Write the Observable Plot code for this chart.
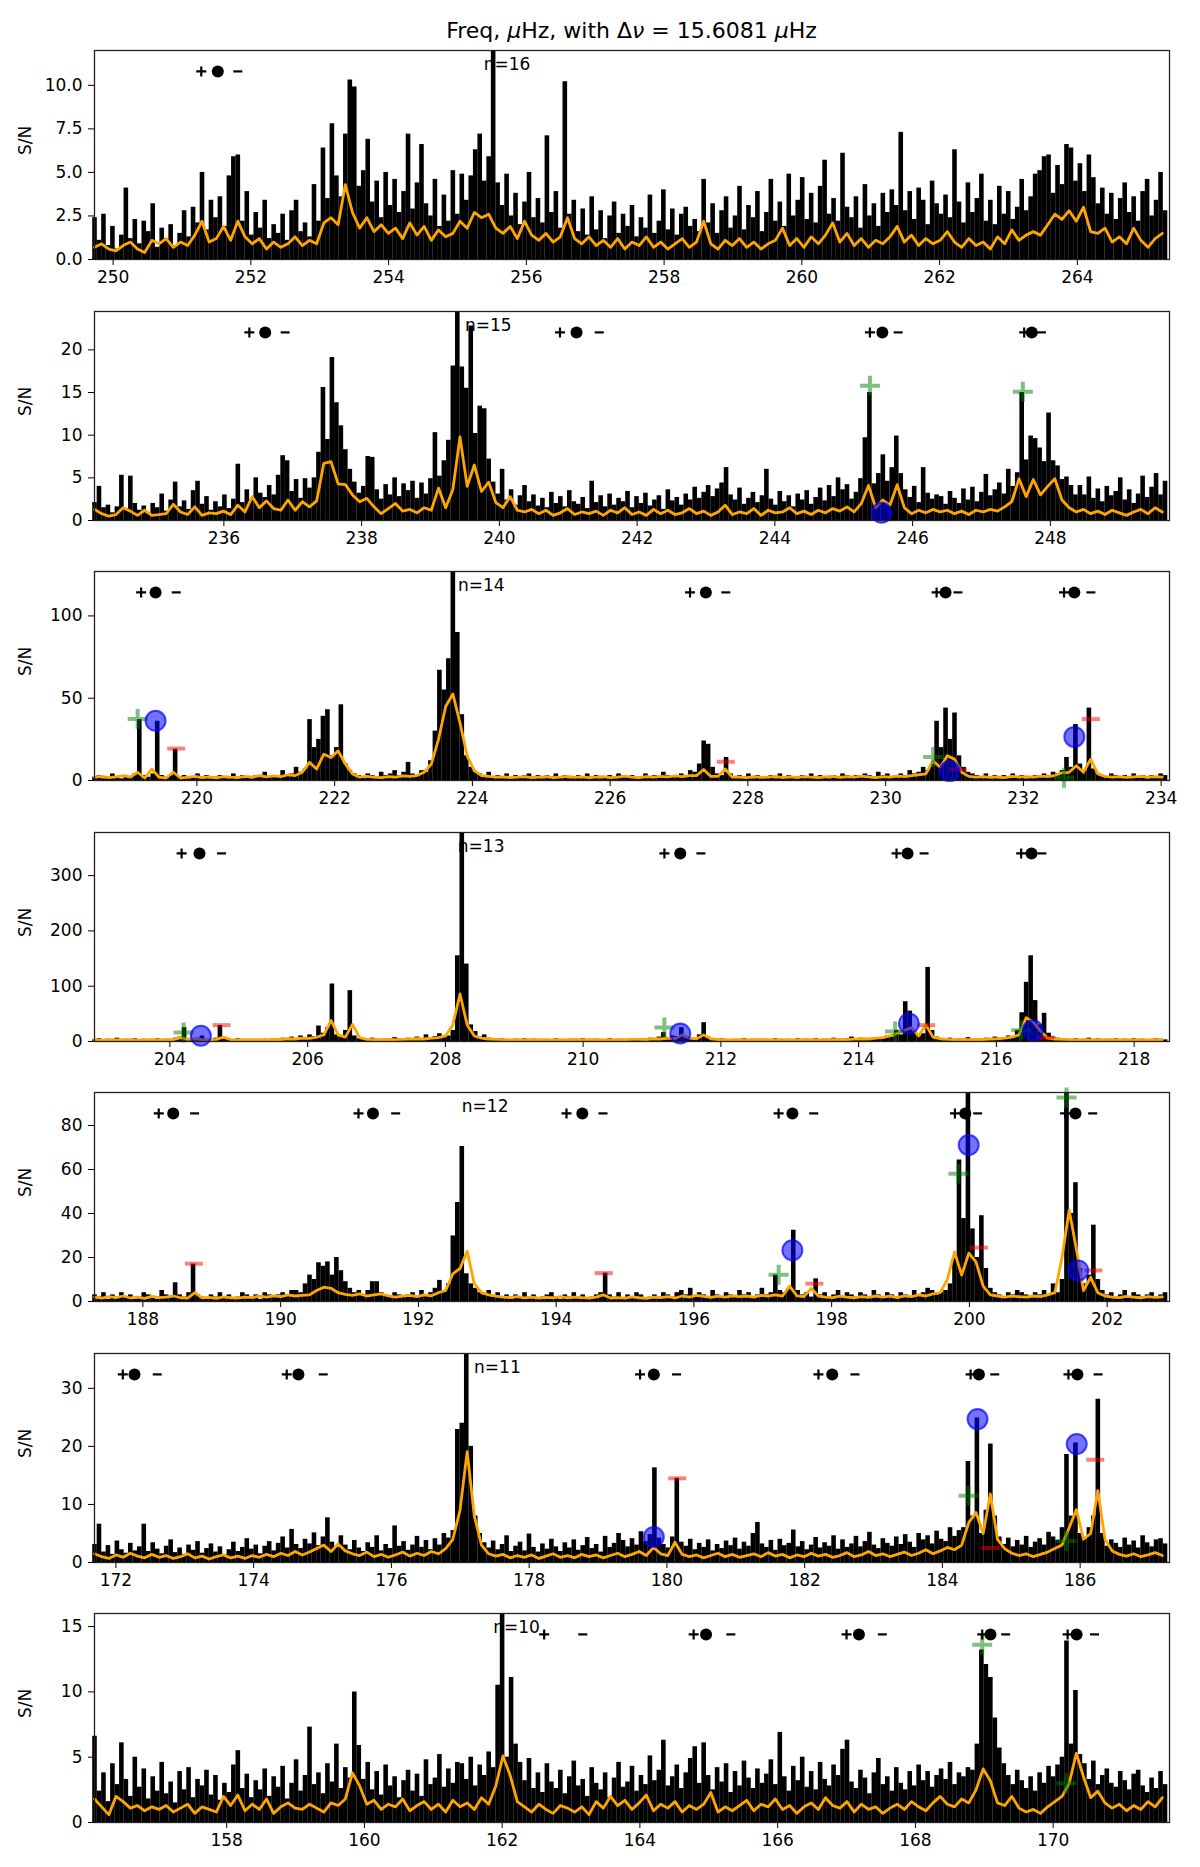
<!DOCTYPE html>
<html>
<head>
<meta charset="utf-8">
<script src="https://cdn.jsdelivr.net/npm/d3@7"></script>
<script src="https://cdn.jsdelivr.net/npm/@observablehq/plot@0.6"></script>
<style>
body { margin: 0; background: #fff; font-family: "DejaVu Sans", sans-serif; }
#title { height: 42px; box-sizing: border-box; padding-top: 20px; padding-left: 94px; width: 1169px;
  text-align: center; font-size: 22px; line-height: 22px; color: #000; }
#chart svg { display: block; }
</style>
</head>
<body>
<div id="title">Freq, <i>μ</i>Hz, with Δ<i>ν</i> = 15.6081 <i>μ</i>Hz</div>
<div id="chart"></div>
<script>
const dnu = 15.6081;

// power spectrum (S/N), 240 bins per order
const black16 = [
  2.4,1.1,2.6,0.8,1.9,0.6,1.4,4.1,1.2,2.3, 0.9,2.2,1.6,3.2,0.7,1.8,1.2,2.0,0.8,1.5,
  2.8,1.3,3.0,2.1,5.0,1.7,3.4,2.4,3.6,1.9, 4.8,5.9,6.0,2.2,3.9,1.4,2.7,1.8,3.4,1.2,
  2.0,1.5,2.6,1.1,2.8,3.4,1.6,2.1,1.3,4.3, 2.2,6.4,3.5,7.8,4.8,3.6,7.2,10.3,9.9,4.2,
  5.1,6.9,3.3,4.5,2.4,5.0,3.1,4.6,2.7,3.9, 7.2,2.9,4.4,6.6,3.2,2.5,4.6,1.9,3.7,2.2,
  5.1,2.6,4.9,3.4,4.8,6.3,7.2,4.5,5.9,13, 4.4,3.1,4.9,2.5,3.8,2.0,3.3,5.0,2.4,3.5,
  2.1,7.1,2.7,3.9,1.8,10.2,2.6,3.4,1.6,2.9, 1.4,3.6,1.7,2.8,1.2,2.5,3.3,1.5,2.6,1.9,
  3.1,1.3,2.4,1.8,3.7,1.5,2.2,4.0,1.7,2.9, 1.4,2.6,3.0,1.9,2.3,1.6,4.6,2.1,3.2,1.5,
  2.8,3.6,1.8,2.5,4.2,1.7,3.1,2.4,3.9,1.6, 2.7,4.6,2.2,3.3,1.9,4.9,2.5,3.4,4.7,2.3,
  3.8,2.1,4.2,5.7,2.6,3.5,2.2,6.1,3.0,2.4, 3.6,1.8,4.3,2.5,3.2,1.9,3.8,2.7,4.0,3.1,
  7.3,2.8,3.9,2.3,4.1,3.4,2.0,4.5,3.2,2.6, 3.7,2.4,6.3,3.3,2.1,4.4,2.7,3.5,4.9,2.2,
  3.4,2.0,4.2,2.6,3.9,2.3,3.0,4.6,2.8,3.6, 4.9,5.1,5.9,6.0,3.8,5.4,4.3,6.6,6.4,4.5,
  5.5,3.9,6.0,4.7,3.2,4.1,2.6,3.8,2.3,3.5, 4.4,2.7,3.6,2.2,3.9,4.6,2.5,3.4,5.0,2.8
];
const black15 = [
  2.1,4.0,1.5,1.8,0.9,1.6,5.3,1.4,5.2,2.0, 1.2,1.7,0.8,2.0,1.5,3.1,1.1,2.4,4.5,1.6,
  2.3,1.3,3.5,4.6,1.9,2.8,1.2,2.2,1.6,3.0, 1.4,2.5,6.6,2.1,3.6,2.4,5.0,3.2,2.7,4.1,
  3.0,5.3,7.6,7.0,3.4,4.8,2.6,4.9,3.8,5.0, 8.0,15.6,9.5,19.1,13.8,11.1,8.3,6.0,4.5,3.2,
  4.0,7.5,7.4,3.6,2.5,4.2,3.0,5.0,2.8,4.3, 3.5,4.6,2.6,4.4,3.1,4.9,10.3,5.2,7.0,9.4,
  18.1,26,18.0,15.5,22.8,10.2,13.4,13.1,7.2,4.5, 3.1,6.0,2.4,3.6,1.8,2.9,4.1,2.2,3.0,1.7,
  2.6,1.5,3.3,2.0,2.8,1.6,3.5,2.2,1.9,2.7, 1.4,4.6,2.1,2.9,1.6,3.1,1.8,2.6,2.2,3.4,
  1.5,2.8,2.0,3.2,1.7,2.4,2.9,1.3,3.6,2.3, 2.7,1.8,3.1,2.4,3.9,2.6,3.3,4.1,2.8,3.7,
  4.4,6.2,3.0,2.4,3.8,1.9,2.6,3.3,2.1,2.9, 6.0,2.5,1.8,3.4,2.2,2.9,1.6,3.1,2.4,3.5,
  1.9,2.7,3.8,2.3,4.1,2.8,5.0,3.6,4.2,2.5, 3.3,4.9,9.7,15.0,4.3,5.5,7.7,4.6,6.2,9.9,
  5.5,3.6,2.7,4.0,2.1,6.2,3.2,2.5,3.0,2.8, 1.9,3.4,2.6,2.0,3.7,2.4,3.9,2.2,3.3,5.4,
  2.9,3.6,4.4,3.1,6.0,4.0,5.6,15.0,7.1,9.9, 9.6,8.5,6.9,12.6,7.0,6.4,4.8,5.1,4.1,3.0,
  4.1,3.0,5.1,2.6,3.7,2.2,4.0,2.9,3.4,5.0, 2.4,3.6,2.0,3.1,5.2,2.7,3.9,5.5,3.0,4.6
];
const black14 = [
  2,3,1,2,4,2,1,3,2,4, 37,3,2,4,36,3,2,3,19,2,
  3,1,2,4,2,3,1,2,3,2, 1,4,2,3,2,1,3,2,5,2,
  3,2,6,3,4,8,5,7,37,20, 25,39,43,15,20,46,10,6,4,3,
  2,4,3,2,5,3,4,6,3,5, 11,4,3,6,5,12,30,67,55,74,
  140,90,40,15,8,5,4,3,5,2, 3,2,4,1,3,2,3,4,2,3,
  1,3,2,4,2,3,1,2,3,2, 4,2,3,1,2,3,2,4,3,2,
  3,1,2,4,2,3,2,5,3,2, 3,4,2,6,5,10,24,22,8,4,
  3,14,4,2,3,2,4,1,3,2, 2,3,1,4,2,3,2,1,3,2,
  4,2,3,2,1,3,2,4,3,2, 3,2,4,3,2,5,3,4,2,3,
  4,3,6,4,5,8,6,10,36,20, 44,25,41,15,8,5,4,3,2,4,
  2,3,1,3,2,4,2,3,1,2, 3,2,4,3,5,4,6,14,8,34,
  10,6,44,7,4,3,2,4,3,2, 3,2,4,2,3,1,3,2,4,3
];
const black13 = [
  3,5,2,4,3,6,2,4,3,5, 2,4,3,2,5,3,4,2,6,8,
  25,5,3,6,10,4,3,6,29,4, 3,2,5,3,2,4,3,2,4,3,
  5,3,6,4,8,5,10,7,12,9, 28,15,25,104,12,8,20,92,10,5,
  4,3,6,4,3,5,4,7,5,4, 6,4,8,5,12,6,9,14,8,10,
  20,155,400,140,30,18,8,12,6,4, 3,5,3,2,4,3,5,2,4,3,
  2,4,3,5,2,3,4,2,3,5, 3,2,4,3,2,5,3,4,2,3,
  4,3,5,4,6,5,8,16,7,10, 9,25,8,6,5,12,34,8,4,3,
  5,3,2,4,3,5,2,4,3,2, 4,3,5,2,3,4,2,5,3,4,
  3,5,2,4,3,6,4,3,5,8, 4,6,3,5,7,4,6,10,8,20,
  12,72,55,18,10,14,134,20,8,5, 4,6,3,5,4,7,3,5,4,6,
  5,8,6,4,10,7,20,52,107,155, 74,30,51,15,8,6,5,4,3,5,
  3,4,6,3,5,2,4,3,5,3, 4,2,5,3,4,2,3,5,4,3
];
const black12 = [
  3,2,4,1,3,2,4,2,3,1, 2,4,3,2,1,5,3,2,8.5,3,
  2,4,17,3,2,1,3,2,4,2, 3,1,2,4,3,2,3,1,4,3,
  2,3,4,3,5,5,4,8,12,10, 17.6,16,18,12,20,14,9,6,4,5,
  3,5,9,9,4,3,2,4,3,2, 3,4,2,5,3,4,6,9.6,5,8,
  29.8,45,70.4,12.6,8,6,4,3,5,2, 4,2,3,1,3,2,4,2,3,1,
  2,3,4,2,1,3,2,4,2,3, 1,2,3,4,12.9,3,2,4,1,3,
  2,4,3,1,2,3,2,4,3,2, 4,5,3,6,2,4,3,2,5,3,
  2,4,3,2,5,3,4,2,3,6, 3,4,12,5,4,6,32.4,5,3,4,
  2,10.3,3,4,2,3,5,2,4,3, 2,4,3,2,5,3,2,4,3,2,
  4,3,2,5,3,4,6,5,3,4, 5,8,20,64.3,37.7,96,33,20,39,15,
  6,4,3,2,4,3,5,4,3,2, 4,3,5,3,8,4,10,96,40,54,
  15,8,12,34.7,10,5,3,4,2,3, 5,2,4,3,2,3,4,2,3,4
];
const black11 = [
  3.1,6.6,1.8,2.9,1.4,3.7,2.2,1.6,3.3,2.0, 2.7,6.6,1.9,3.4,2.3,1.5,2.8,3.9,1.7,2.5,
  1.4,3.0,2.1,3.6,1.6,2.4,3.2,1.8,2.7,1.3, 2.2,3.5,1.9,2.6,4.1,2.3,3.0,1.5,2.8,3.6,
  2.0,3.3,4.4,2.5,5.7,3.1,2.4,4.0,3.2,5.1, 2.9,4.4,7.7,3.5,2.6,4.6,3.0,2.2,3.8,2.5,
  1.9,3.4,2.6,4.6,2.0,3.1,2.4,6.3,2.8,3.6, 2.1,3.0,4.5,2.6,3.8,2.2,4.1,3.0,5.0,4.2,
  5.5,22.9,24,37,20,8,5.0,3.4,2.5,3.7, 2.2,3.1,4.6,1.9,2.8,3.5,2.0,4.9,2.6,1.8,
  3.2,2.3,4.0,2.7,1.9,3.4,2.5,3.9,2.1,2.9, 4.3,2.4,3.1,1.8,4.5,2.6,3.3,5.0,3.8,2.7,
  4.1,3.0,5.3,3.6,4.8,16.3,4.2,3.1,2.5,4.4, 14.5,3.5,2.8,4.0,2.2,3.3,2.6,3.9,2.0,3.1,
  2.4,3.7,2.9,4.2,2.3,3.5,2.8,5.0,6.9,3.2, 2.6,3.8,2.1,4.0,2.9,3.3,5.6,2.7,3.6,2.2,
  3.0,4.3,2.5,3.4,2.8,4.6,2.3,3.9,2.6,3.2, 4.5,2.7,3.6,5.2,3.0,2.4,4.1,3.3,2.8,4.4,
  3.1,4.8,3.5,2.6,5.0,3.9,4.6,3.2,5.4,4.0, 3.6,6.0,4.5,5.5,6,17.4,8,24.9,5,9,
  20.4,8,4.4,3.1,4.2,2.7,3.8,3.0,4.5,2.6, 3.5,4.1,3.0,5.2,4.4,3.8,6,18.6,8,20.6,
  5,4.0,6,8,28.1,5,2.8,3.9,3.3,2.6, 4.2,3.0,3.7,2.5,4.6,3.4,2.7,3.9,4.1,3.2
];
const black10 = [
  6.6,2.4,3.8,1.6,4.5,2.9,6.1,3.3,2.0,5.0, 2.7,4.1,1.8,3.5,2.4,4.6,2.2,3.1,1.5,3.9,
  2.5,4.2,1.9,3.3,2.8,4.0,2.1,3.6,1.7,3.0, 2.3,4.4,5.5,2.6,3.7,1.9,3.2,2.5,4.1,2.0,
  3.5,2.7,4.3,1.8,3.0,4.8,2.4,3.6,7.3,2.9, 3.8,2.2,4.5,3.1,6.0,2.6,4.2,3.4,10.0,5.9,
  3.3,4.6,2.5,3.9,2.1,4.4,2.8,3.5,1.9,3.2, 4.0,2.4,3.7,2.0,4.8,2.9,3.4,5.2,2.7,4.1,
  3.0,4.6,4.5,3.3,5.0,2.8,4.4,3.6,5.4,4.2, 10.5,17,5,11.1,6,4.6,3.2,4.9,2.6,3.8,
  2.3,4.5,3.1,2.6,4.0,2.2,3.5,4.7,2.8,3.3, 2.0,4.2,3.0,2.5,3.8,1.9,3.4,4.6,2.7,3.1,
  4.3,2.4,3.6,2.9,5.1,3.2,4.0,6.3,2.8,3.5, 4.4,2.6,3.8,4.9,5.8,3.0,6.1,3.6,2.5,4.2,
  3.1,4.5,2.3,3.9,2.8,4.7,3.4,2.6,4.1,3.0, 3.7,4.8,2.9,6.9,3.5,2.4,4.3,3.2,5.0,2.7,
  3.9,2.5,4.6,3.3,2.8,4.4,3.6,5.6,6.3,3.1, 2.6,4.0,3.4,2.2,3.8,4.9,2.9,3.5,2.4,4.2,
  3.0,2.5,3.9,2.8,4.4,3.2,3.9,2.7,3.6,4.1, 3.3,4.6,2.9,3.8,3.5,4.2,4,6,13.2,12.1,
  11.1,8,5.7,4.5,3.6,2.9,4.0,3.2,2.6,3.5, 2.4,3.8,3.0,4.3,3.5,4.4,5,13.9,6,10.1,
  5.2,4.5,3.3,4.7,2.9,3.6,4.1,3.0,2.7,3.9, 3.2,2.5,3.7,4.0,2.8,2.3,3.4,2.6,3.9,2.9
];

// smoothed spectrum, 150 points per order
const orange16 = [
  0.7,0.9,0.6,0.5,0.8,1.0,0.6,0.4,1.1,0.9, 1.2,0.7,1.0,0.8,1.4,2.2,1.0,1.2,1.9,1.1,
  2.2,1.3,0.9,1.2,0.6,1.0,0.7,0.9,1.3,0.8, 1.1,0.9,2.1,2.4,2.0,4.3,2.7,1.8,2.4,1.6,
  2.0,1.5,1.8,1.2,2.1,1.4,1.9,1.1,1.7,1.3, 1.5,2.2,1.8,2.7,2.4,2.6,1.8,1.5,1.9,1.2,
  2.2,1.4,1.1,1.5,1.0,1.3,2.4,1.2,0.9,1.3, 0.8,1.1,0.7,1.2,0.6,1.0,0.8,1.3,0.7,1.0,
  0.6,0.9,1.2,0.7,1.0,2.2,0.9,0.6,1.1,0.8, 1.2,0.7,1.0,0.6,0.9,1.1,1.8,0.8,1.2,0.7,
  1.3,0.9,1.4,2.1,1.0,1.5,0.8,1.2,0.7,1.1, 0.9,1.3,1.9,1.0,1.4,0.8,1.2,0.9,1.1,1.6,
  1.0,0.7,1.2,0.8,1.0,0.6,1.3,0.9,1.7,1.1, 1.4,1.6,1.4,2.0,2.6,2.3,2.8,2.2,3.0,1.6,
  1.5,1.8,1.0,1.3,0.9,1.8,1.1,0.7,1.2,1.5
];
const orange15 = [
  1.3,0.8,0.5,0.7,1.5,1.1,0.6,1.2,0.6,0.7, 0.8,1.9,1.0,0.7,1.6,0.6,0.9,0.8,1.1,0.7,
  1.8,1.0,2.8,1.5,2.3,1.4,1.2,2.4,1.2,2.2, 1.6,2.3,6.7,6.9,4.3,4.2,3.0,2.2,2.6,1.6,
  0.8,1.4,2.0,1.1,1.3,0.9,1.5,1.2,3.8,1.5, 3.6,9.8,4.0,6.5,3.4,4.5,2.1,1.5,2.8,1.2,
  1.0,1.3,0.8,1.2,0.6,0.9,1.4,0.7,1.0,0.8, 1.1,0.6,1.2,0.9,1.5,0.7,1.0,0.6,1.3,0.8,
  1.2,0.7,0.9,1.4,0.8,1.1,0.6,1.0,1.8,0.7, 1.0,0.8,1.4,0.6,1.2,0.9,1.0,1.5,0.8,1.1,
  0.7,1.2,0.9,1.4,1.1,1.6,1.0,2.0,4.1,1.5, 2.4,1.8,4.2,1.5,0.8,1.2,0.9,1.3,1.0,1.2,
  0.8,1.1,0.7,1.2,1.0,1.3,1.1,1.6,2.2,4.9, 2.8,4.8,3.0,4.0,4.9,2.4,1.5,1.0,1.3,0.8,
  1.1,0.7,1.2,0.9,0.6,1.0,1.3,0.8,1.5,1.0
];
const orange14 = [
  2,2.5,1.8,2.2,3,2,5,1.5,7,2, 1.5,5,1.5,2,2.5,1.8,2.2,1.6,2.4,2,
  1.7,2.5,2,3,2.2,2.8,2.4,3.5,3,5, 11,7,16,14,18,10,4,2,2.5,2,
  1.8,2.4,2,2.8,2.5,3,5,10,25,45, 52.6,35,15,6,3,2.5,2,2.2,1.8,2,
  2.4,1.7,2,2.3,1.8,2.1,2.5,1.9,2.2,1.7, 2,2.4,1.8,2.1,2.6,2,1.7,2.3,2,2.5,
  2.2,2.8,2.4,3,3,6.7,2.5,2.5,7,2, 2,1.8,2.3,1.9,2.1,2.5,1.8,2.2,1.9,2.4,
  2,1.7,2.2,2.5,1.9,2.3,2,2.6,2.2,1.8, 2.4,2.1,2.7,2.3,3,3.5,4,12,8,15,
  13,5,2.5,2,2.4,1.9,2.2,1.8,2.5,2.1, 2.3,2,2.6,2.4,3,4.7,5,9,5,13,
  4,2.5,2,2.3,1.9,2.2,2.5,2,2.3,2.1
];
const orange13 = [
  3,2.5,3.5,3,2.8,3.2,2.6,3,3.4,2.9, 3.2,3.5,7,4,5,3.5,3,4,8,3.5,
  3,3.3,2.8,3.5,3,4,3.6,5,4.5,6, 5.5,8,12,38,12,8,31,7,4,3.5,
  3.2,3.8,3.5,4,4.2,5,4.5,6,7,10, 30,86,30,10,6,4.5,3.8,3.3,3,3.4,
  2.8,3.2,3.5,3,2.7,3.3,3,3.6,2.9,3.2, 3.4,3,2.8,3.5,3.2,3.8,4,3.6,5,4.5,
  6,5,12,6,5,12,5,3.5,3.2,3, 3.3,2.8,3.2,3.5,3,2.7,3.3,3.1,2.9,3.4,
  3.2,3,3.6,3.3,4,3.5,4.2,5,4.5,6, 7,10,15,20,25,10,30,8,5,4,
  3.5,3.8,3.2,4,3.6,4.5,5,6,8,12, 43,35,19,6,4.5,3.8,3.3,3,3.4,2.9,
  3.2,3,3.5,2.8,3.3,3,3.4,2.9,3.2,3
];
const orange12 = [
  2,1.5,2.2,1.8,2.5,1.6,2,1.4,2.3,1.8, 2,2.5,1.7,1.5,4,1.6,1.9,1.4,2.1,1.7,
  1.5,2,1.8,2.4,2,2.6,2.2,3,2.5,2.8, 3,5,6.5,6,4,3.2,2.8,3.5,2.5,3,
  3.5,2.6,2,2.4,2.8,2.2,3,2.6,4,5, 12.6,15,22.8,8,4,3,2.4,2,1.8,2.2,
  1.6,2,1.5,1.9,1.7,2.2,1.6,2,1.8,1.5, 2,3,1.6,1.8,1.5,2.1,1.7,1.4,2,1.8,
  2.2,1.6,2.5,2,2.8,2.3,1.9,2.4,2,2.6, 2.2,2.5,2,2.8,2.4,3,2.5,7,2.6,2.2,
  6,2.5,2,1.8,2.4,2,1.7,2.2,1.9,2.5, 2,2.4,1.8,2.6,2.2,3,2.5,3.5,4,10,
  22.5,12,22,18,7,3,2.5,2,2.4,2.2, 2,2.5,2.2,3,4,20,41.5,24,5,11,
  4,2.5,2,1.8,2.3,2,1.7,2.2,1.9,2.1
];
const orange11 = [
  1.5,1.0,0.7,1.3,0.9,1.6,1.1,0.8,1.4,0.9, 1.2,0.7,1.0,1.5,0.8,1.1,0.6,1.0,1.3,0.8,
  1.1,0.7,1.2,0.9,1.4,1.0,1.6,1.2,1.9,1.3, 1.8,2.4,3.0,1.9,3.2,2.0,1.5,1.2,1.8,1.0,
  1.4,0.9,1.3,1.8,1.1,1.6,1.2,1.9,1.5,2.4, 4,9,19.1,8,3,1.5,1.1,1.4,0.8,1.2,
  0.9,1.3,0.7,1.1,1.5,0.9,1.2,0.8,1.4,1.0, 1.3,0.8,1.2,1.6,1.0,1.4,1.9,1.2,2.6,1.5,
  1.2,3.5,1.4,1.0,1.3,0.8,1.2,1.6,1.0,1.4, 0.9,1.2,1.5,1.0,1.7,1.1,1.4,0.8,1.3,1.0,
  1.6,1.1,1.4,0.9,1.2,1.7,1.0,1.3,1.9,1.2, 1.5,1.0,1.4,1.8,1.2,1.6,2.2,1.5,2.0,2.6,
  2.2,3.0,6.9,8.6,5,11.8,4,2.4,1.6,1.2, 1.5,1.0,1.4,1.8,2.4,3,6,9.1,4,5,
  12.4,4,2,1.4,1.1,1.5,1.0,1.3,1.7,1.2
];
const orange10 = [
  1.8,1.2,0.6,2.0,1.6,1.1,1.3,0.9,1.2,1.0, 1.3,0.8,1.1,1.4,0.7,1.2,1.0,0.8,2.0,1.3,
  2.1,0.9,1.4,1.0,1.8,0.7,1.2,1.5,1.1,1.0, 1.4,1.1,0.8,1.5,1.3,1.8,3.8,2.8,1.4,1.7,
  1.0,1.4,1.2,1.8,0.9,1.3,1.6,1.0,1.4,0.8, 1.7,1.2,1.5,1.0,1.9,1.4,2.8,5.1,3.6,1.6,
  1.2,0.8,1.4,1.0,0.7,1.3,1.1,0.8,1.2,0.6, 1.6,1.1,2.0,1.3,1.7,1.0,1.5,2.1,0.9,1.4,
  1.1,1.6,0.8,1.3,1.0,1.4,2.3,0.8,1.2,0.9, 1.3,1.7,0.9,1.4,1.2,1.8,1.0,1.3,0.7,1.2,
  1.5,1.0,1.9,1.3,1.1,1.6,0.8,1.4,1.0,1.2, 0.7,1.1,1.4,1.0,1.6,1.2,0.9,1.5,2.0,1.4,
  1.2,1.8,1.5,2.5,4.1,3.2,1.5,1.3,2.0,1.1, 0.8,1.0,0.7,1.2,1.6,2.0,3.0,5.3,3.5,1.9,
  2.4,1.5,1.1,1.4,0.9,1.3,1.0,1.6,1.2,1.9
];

// mode markers (+ centre -) per order, frequencies in μHz
const centers16 = [251.52], plus16 = [251.28], minus16 = [251.81];
const centers15 = [236.60, 241.12, 245.56, 247.73], plus15 = [236.37, 240.88, 245.38, 247.62], minus15 = [236.89, 241.45, 245.79, 247.87];
const centers14 = [219.40, 227.39, 230.87, 232.74], plus14 = [219.19, 227.16, 230.74, 232.59], minus14 = [219.70, 227.68, 231.05, 232.98];
const centers13 = [204.43, 211.41, 214.71, 216.51], plus13 = [204.17, 211.18, 214.55, 216.36], minus13 = [204.75, 211.71, 214.95, 216.66];
const centers12 = [188.44, 191.34, 194.38, 197.43, 199.94, 201.54], plus12 = [188.23, 191.13, 194.15, 197.23, 199.79, 201.39], minus12 = [188.75, 191.67, 194.68, 197.74, 200.12, 201.79];
const centers11 = [172.27, 174.65, 179.81, 182.40, 184.53, 185.96], plus11 = [172.10, 174.48, 179.61, 182.20, 184.41, 185.83], minus11 = [172.60, 175.01, 180.14, 182.73, 184.76, 186.26];
const centers10 = [164.96, 167.18, 169.09, 170.34], plus10 = [162.61, 164.78, 167.00, 168.97, 170.21], minus10 = [163.17, 165.32, 167.52, 169.31, 170.60];

// fitted peaks [freq, S/N]
const green15 = [[245.38, 15.8], [247.60, 15.1]], blue15 = [[245.55, 0.9]], red15 = [];
const green14 = [[219.14, 37.3], [230.69, 14.3], [232.59, 1.6]], blue14 = [[219.40, 36.3], [230.93, 5.7], [232.74, 26.5]], red14 = [[219.70, 19.4], [227.68, 11.4], [231.05, 6.7], [232.98, 37.3]];
const green13 = [[204.20, 16.3], [211.18, 25.4], [214.53, 18.1], [216.36, 20.5]], blue13 = [[204.45, 10.3], [211.41, 14.5], [214.73, 32.6], [216.53, 20.5]], red13 = [[204.75, 29.6], [214.98, 29.6], [216.71, 7]];
const green12 = [[197.23, 12.2], [199.84, 58.1], [201.41, 92.7]], blue12 = [[197.43, 23.3], [199.99, 71.1], [201.58, 14.1]], red12 = [[188.74, 17.2], [194.69, 12.9], [197.75, 8.1], [200.14, 24.5], [201.80, 14.1]];
const green11 = [[184.38, 11.5], [185.80, 3.7]], blue11 = [[179.81, 4.4], [184.51, 24.7], [185.95, 20.4]], red11 = [[180.15, 14.5], [184.70, 2.5], [186.22, 17.7]];
const green10 = [[168.97, 13.6], [170.19, 3.0]];

const orders = [16, 15, 14, 13, 12, 11, 10];
const yMax = [12.0, 24.5, 127, 378, 95, 36, 16];
const nLabelAt = [255.38, 239.50, 223.79, 208.18, 192.63, 177.20, 161.87];
const xTicks = [
  [250, 252, 254, 256, 258, 260, 262, 264],
  [236, 238, 240, 242, 244, 246, 248],
  [220, 222, 224, 226, 228, 230, 232, 234],
  [204, 206, 208, 210, 212, 214, 216, 218],
  [188, 190, 192, 194, 196, 198, 200, 202],
  [172, 174, 176, 178, 180, 182, 184, 186],
  [158, 160, 162, 164, 166, 168, 170]
];
const yTicks = [
  [0, 2.5, 5, 7.5, 10], [0, 5, 10, 15, 20], [0, 50, 100], [0, 100, 200, 300],
  [0, 20, 40, 60, 80], [0, 10, 20, 30], [0, 5, 10, 15]
];

const panels = [
  {black: black16, orange: orange16, cen: centers16, plus: plus16, minus: minus16, green: [], blue: [], red: []},
  {black: black15, orange: orange15, cen: centers15, plus: plus15, minus: minus15, green: green15, blue: blue15, red: red15},
  {black: black14, orange: orange14, cen: centers14, plus: plus14, minus: minus14, green: green14, blue: blue14, red: red14},
  {black: black13, orange: orange13, cen: centers13, plus: plus13, minus: minus13, green: green13, blue: blue13, red: red13},
  {black: black12, orange: orange12, cen: centers12, plus: plus12, minus: minus12, green: green12, blue: blue12, red: red12},
  {black: black11, orange: orange11, cen: centers11, plus: plus11, minus: minus11, green: green11, blue: blue11, red: red11},
  {black: black10, orange: orange10, cen: centers10, plus: plus10, minus: minus10, green: green10, blue: [], red: []}
];

// stroke-only marker shapes, r = half length
const plusSym = {draw(c, s) { const r = Math.sqrt(s / Math.PI); c.moveTo(-r, 0); c.lineTo(r, 0); c.moveTo(0, -r); c.lineTo(0, r); }};
const dashSym = {draw(c, s) { const r = Math.sqrt(s / Math.PI); c.moveTo(-r, 0); c.lineTo(r, 0); }};

const chart = document.getElementById("chart");
panels.forEach((p, k) => {
  const f0 = orders[k] * dnu;
  const ymax = yMax[k];
  const bl = p.black.map((v, i) => ({f: f0 + i * dnu / p.black.length, v}));
  const sm = p.orange.map((v, i) => ({f: f0 + i * dnu / p.orange.length, v}));
  const top = ymax * 0.9;
  const plot = Plot.plot({
    width: 1200,
    height: 260.5,
    marginLeft: 94,
    marginRight: 31,
    marginTop: 8,
    marginBottom: 43.5,
    style: {fontFamily: "DejaVu Sans, sans-serif", fontSize: "17px", color: "black", background: "white"},
    x: {domain: [f0, f0 + dnu], ticks: xTicks[k], tickFormat: d => String(d), label: null, tickSize: 6, tickPadding: 5},
    y: {domain: [0, ymax], ticks: yTicks[k], tickFormat: k === 0 ? d3.format(".1f") : d => String(d),
        label: null, tickSize: 6, tickPadding: 6, clamp: true},
    marks: [
      Plot.ruleX(bl, {x: "f", y1: 0, y2: "v", stroke: "black", strokeWidth: 4.6}),
      Plot.line(sm, {x: "f", y: "v", stroke: "orange", strokeWidth: 2.8}),
      Plot.dot(p.green, {x: d => d[0], y: d => d[1], symbol: plusSym, r: 10, fill: "none",
        stroke: "green", strokeOpacity: 0.5, strokeWidth: 4}),
      Plot.dot(p.red, {x: d => d[0], y: d => d[1], symbol: dashSym, r: 9, fill: "none",
        stroke: "red", strokeOpacity: 0.5, strokeWidth: 4}),
      Plot.dot(p.blue, {x: d => d[0], y: d => d[1], r: 10, fill: "blue", fillOpacity: 0.55,
        stroke: "blue", strokeOpacity: 0.7, strokeWidth: 2}),
      Plot.dot(p.plus, {x: d => d, y: top, symbol: plusSym, r: 5, fill: "none", stroke: "black", strokeWidth: 2.2}),
      Plot.dot(p.cen, {x: d => d, y: top, r: 6, fill: "black", stroke: "none"}),
      Plot.dot(p.minus, {x: d => d, y: top, symbol: dashSym, r: 4.5, fill: "none", stroke: "black", strokeWidth: 2.2}),
      Plot.text(["n=" + orders[k]], {x: nLabelAt[k], y: ymax * 0.935, text: d => d, textAnchor: "start",
        lineAnchor: "middle", fontSize: 17, fill: "black"}),
      Plot.text(["S/N"], {frameAnchor: "left", dx: -69, rotate: -90, text: d => d, fontSize: 17, fill: "black"}),
      Plot.frame({stroke: "#222", strokeWidth: 1.3})
    ]
  });
  chart.appendChild(plot);
});
</script>
</body>
</html>
